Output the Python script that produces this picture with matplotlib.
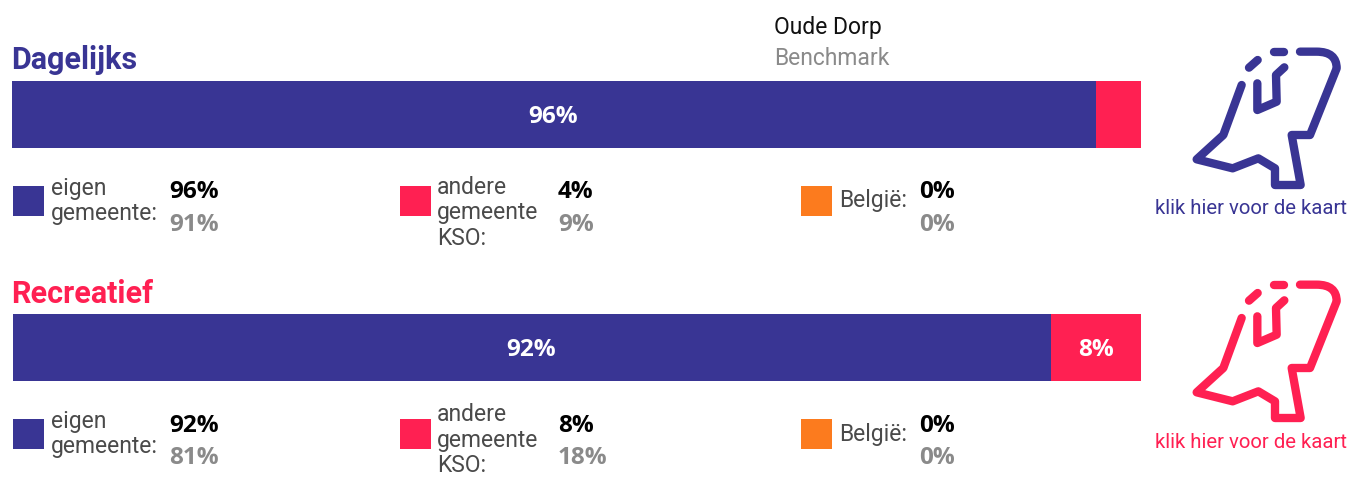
import matplotlib
matplotlib.use("Agg")
import matplotlib.pyplot as plt
from matplotlib.patches import Rectangle, PathPatch
from matplotlib.path import Path

W, H = 1351, 478
BLUE, RED, ORANGE, GREY, DARK = "#393594", "#FF2052", "#FC7B1E", "#8A8A8A", "#4A4A4A"

panels = ["Dagelijks", "Recreatief"]
eigen = [96, 92]
andere = [4, 8]
belgie = [0, 0]
eigen_bm = [91, 81]
andere_bm = [9, 18]
belgie_bm = [0, 0]
map_label = "klik hier voor de kaart"
legend_labels = ["eigen\ngemeente:", "andere\ngemeente\nKSO:", "België:"]

fig = plt.figure(figsize=(W / 100, H / 100), dpi=100, facecolor="white")
bg = fig.add_axes([0, 0, 1, 1])
bg.set_xlim(0, W)
bg.set_ylim(H, 0)
bg.axis("off")

def txt(x, y, s, **kw):
    kw.setdefault("va", "center")
    kw.setdefault("ha", "left")
    kw.setdefault("family", "Roboto")
    bg.text(x, y, s, **kw)

txt(774, 27, "Oude Dorp", fontsize=16.5, color="#111111")
txt(774, 58, "Benchmark", fontsize=16.5, color=GREY)

logo_main = [(480, 65), (530, 65), (590, 65), (590, 115), (510, 315), (455, 315),
             (482, 465), (405, 465), (405, 415), (355, 385), (278, 415), (170, 388), (250, 315), (305, 165)]
logo_main_codes = [Path.MOVETO, Path.LINETO, Path.CURVE3, Path.CURVE3] + [Path.LINETO] * 10
logo_dash1 = [(402, 65), (433, 65)]
logo_dash2 = [(327, 113), (353, 90)]
logo_inner = [(352, 160), (352, 240), (410, 215), (408, 135), (433, 112)]

def draw_logo(dy, color):
    for path, codes in ((logo_main, logo_main_codes), (logo_dash1, None), (logo_dash2, None), (logo_inner, None)):
        pts = [(1140 + p[0] / 3, 30 + dy + p[1] / 3) for p in path]
        bg.add_patch(PathPatch(Path(pts, codes), fill=False, edgecolor=color, lw=6.0,
                               capstyle="round", joinstyle="round"))

def pct(x, y, s, color):
    txt(x, y, s, fontsize=17.5, fontweight="bold", color=color, family="Open Sans")

offsets = [0, 233]
lefts = [12, 13]
baselines = [69, 303]
for i, dy in enumerate(offsets):
    title_color = BLUE if i == 0 else RED
    txt(11, baselines[i], panels[i], fontsize=22, fontweight="bold", color=title_color, va="baseline")

    left = lefts[i]
    ax = fig.add_axes([left / W, 1 - (148 + dy) / H, (1141 - left) / W, 67 / H])
    ax.barh([0], [eigen[i]], left=0, height=1, color=BLUE)
    ax.barh([0], [andere[i]], left=eigen[i], height=1, color=RED)
    ax.barh([0], [belgie[i]], left=eigen[i] + andere[i], height=1, color=ORANGE)
    ax.set_xlim(0, 100)
    ax.set_ylim(-0.5, 0.5)
    ax.axis("off")
    ax.text(eigen[i] / 2 - 0.05, -0.03, f"{eigen[i]}%", color="white", fontsize=17.5, fontweight="bold",
            ha="center", va="center", family="Open Sans")
    if andere[i] >= 5:
        ax.text(eigen[i] + andere[i] / 2, -0.03, f"{andere[i]}%", color="white", fontsize=17.5,
                fontweight="bold", ha="center", va="center", family="Open Sans")

    bg.add_patch(Rectangle((13, 186 + dy), 31, 30, color=BLUE, lw=0))
    txt(51, 201 + dy, legend_labels[0], fontsize=16.5, color=DARK, linespacing=1.13)
    pct(169, 192.5 + dy, f"{eigen[i]}%", "#000000")
    pct(169, 224.5 + dy, f"{eigen_bm[i]}%", GREY)

    bg.add_patch(Rectangle((400, 186 + dy), 31, 30, color=RED, lw=0))
    if i == 0:
        txt(437, 213 + dy, legend_labels[1], fontsize=16.5, color=DARK, linespacing=1.13)
    else:
        txt(437, 477, legend_labels[1], fontsize=16.5, color=DARK, linespacing=1.13, va="bottom")
    pct(558, 192.5 + dy, f"{andere[i]}%", "#000000")
    pct(558, 224.5 + dy, f"{andere_bm[i]}%", GREY)

    bg.add_patch(Rectangle((801, 186 + dy), 31, 30, color=ORANGE, lw=0))
    txt(839, 201 + dy, legend_labels[2], fontsize=16.5, color=DARK)
    pct(919, 192.5 + dy, f"{belgie[i]}%", "#000000")
    pct(919, 224.5 + dy, f"{belgie_bm[i]}%", GREY)

    draw_logo(dy, title_color)
    txt(1251, 209 + dy, map_label, fontsize=14.7, color=title_color, ha="center")

fig.savefig("out.png", dpi=100)
